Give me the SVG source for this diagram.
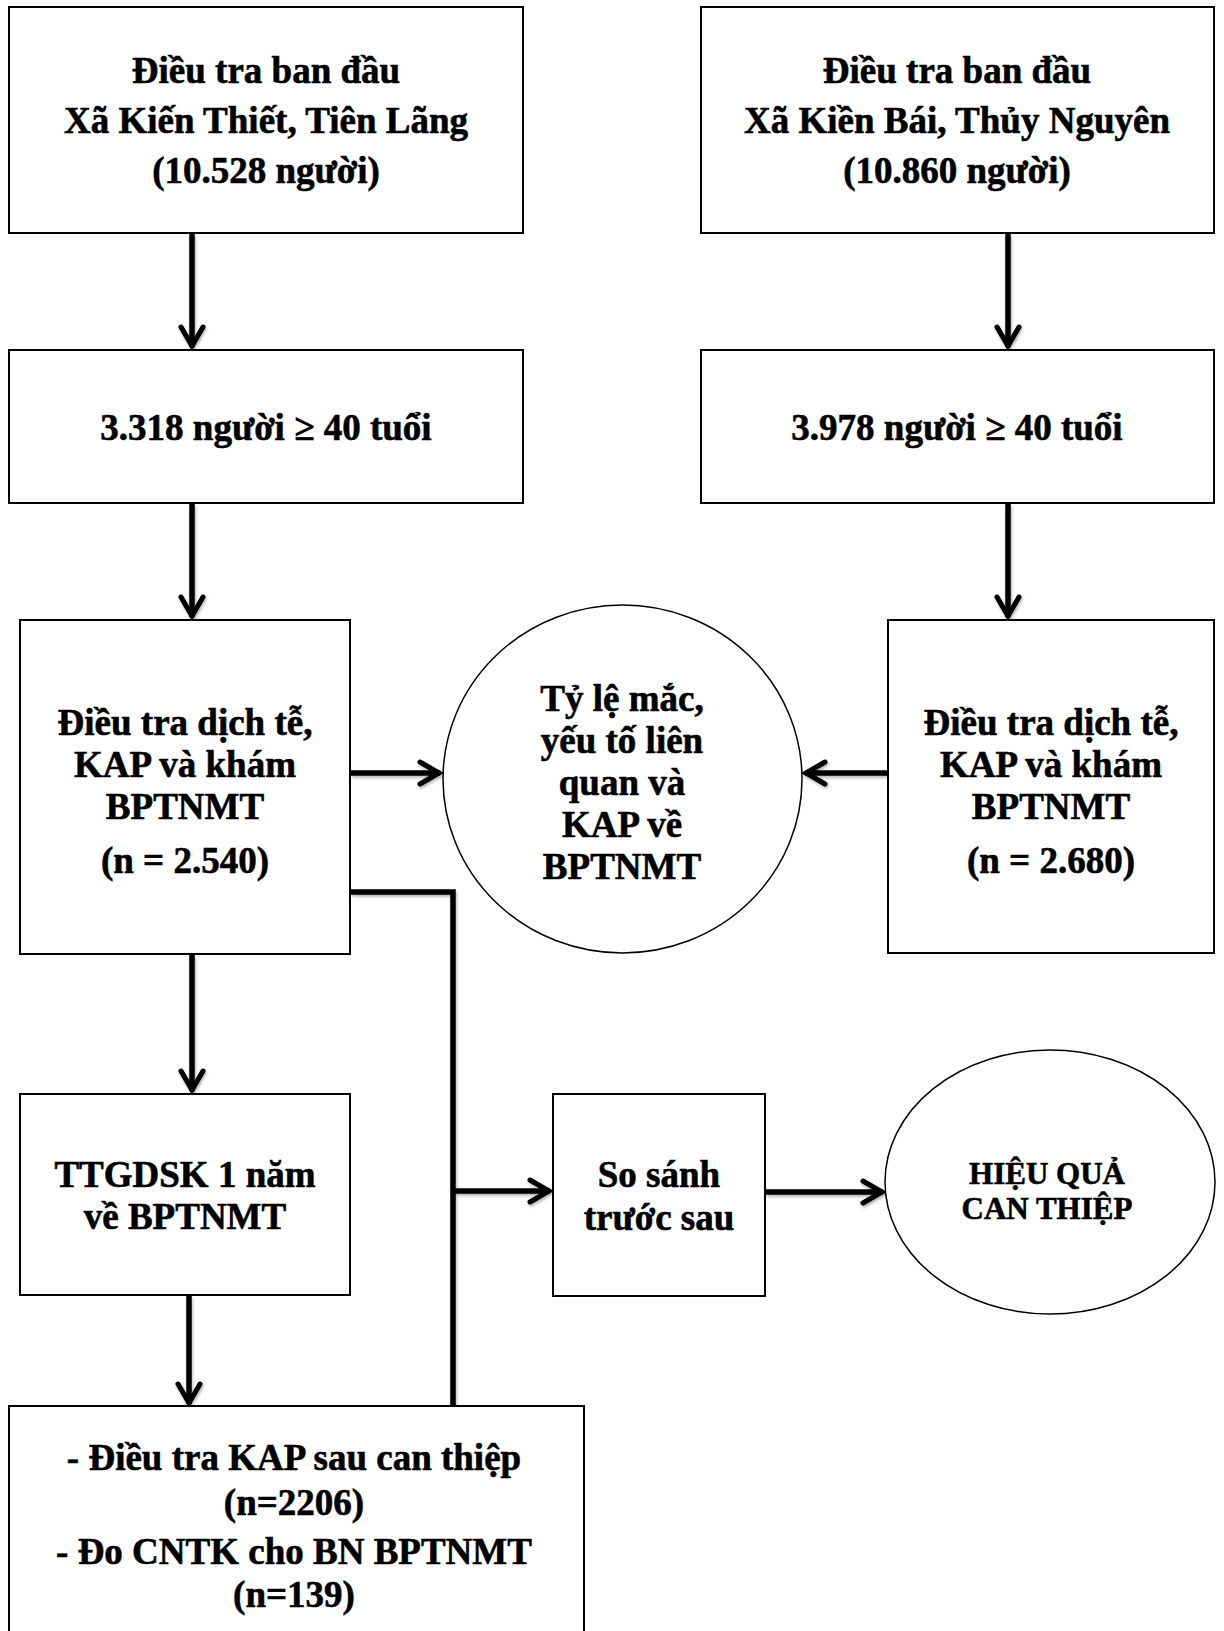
<svg xmlns="http://www.w3.org/2000/svg" width="1224" height="1631" viewBox="0 0 1224 1631">
<style>
.box{fill:#fff;stroke:#000;stroke-width:2}
.oval{fill:#fff;stroke:#000;stroke-width:1.5}
.t{font-family:"Liberation Serif","Times New Roman",serif;font-weight:bold;font-size:37px;fill:#000;stroke:#000;stroke-width:0.6;text-anchor:middle}
.ts{font-size:31px}
.c{fill:none;stroke:#000;stroke-width:5.5}
</style>
<defs>
<filter id="sh" x="-20%" y="-20%" width="140%" height="140%">
<feDropShadow dx="1" dy="2" stdDeviation="1.5" flood-color="#000" flood-opacity="0.3"/>
</filter>
<marker id="arr" markerUnits="userSpaceOnUse" viewBox="-26 -16 30 32" refX="0" refY="0" markerWidth="30" markerHeight="32" orient="auto" overflow="visible">
<path d="M-20,-11 L-1,0 L-20,11" fill="none" stroke="#000" stroke-width="5" stroke-linecap="round" stroke-linejoin="miter"/>
</marker>
</defs>
<rect width="1224" height="1631" fill="#fff"/>
<g id="connectors" filter="url(#sh)">
<line class="c" x1="192" y1="234" x2="192" y2="347" marker-end="url(#arr)"/>
<line class="c" x1="1008" y1="234" x2="1008" y2="347" marker-end="url(#arr)"/>
<line class="c" x1="192" y1="504" x2="192" y2="617" marker-end="url(#arr)"/>
<line class="c" x1="1008" y1="504" x2="1008" y2="617" marker-end="url(#arr)"/>
<line class="c" x1="351" y1="773" x2="440" y2="773" marker-end="url(#arr)"/>
<line class="c" x1="887" y1="773" x2="805" y2="773" marker-end="url(#arr)"/>
<line class="c" x1="192" y1="955" x2="192" y2="1091" marker-end="url(#arr)"/>
<line class="c" x1="189" y1="1296" x2="189" y2="1404" marker-end="url(#arr)"/>
<polyline class="c" points="351,892 453,892 453,1406"/>
<line class="c" x1="453" y1="1191" x2="550" y2="1191" marker-end="url(#arr)"/>
<line class="c" x1="766" y1="1192" x2="883" y2="1192" marker-end="url(#arr)"/>
</g>
<g id="n1"><rect class="box" x="9" y="7" width="514" height="226"/>
<text class="t" x="266" y="83">Điều tra ban đầu</text>
<text class="t" x="266" y="133">Xã Kiến Thiết, Tiên Lãng</text>
<text class="t" x="266" y="183">(10.528 người)</text></g>
<g id="n2"><rect class="box" x="701" y="7" width="513" height="226"/>
<text class="t" x="957" y="83">Điều tra ban đầu</text>
<text class="t" x="957" y="133">Xã Kiền Bái, Thủy Nguyên</text>
<text class="t" x="957" y="183">(10.860 người)</text></g>
<g id="n3"><rect class="box" x="9" y="350" width="514" height="153"/>
<text class="t" x="266" y="440">3.318 người ≥ 40 tuổi</text></g>
<g id="n4"><rect class="box" x="701" y="350" width="513" height="153"/>
<text class="t" x="957" y="440">3.978 người ≥ 40 tuổi</text></g>
<g id="n5"><rect class="box" x="20" y="620" width="330" height="334"/>
<text class="t" x="185" y="735">Điều tra dịch tễ,</text>
<text class="t" x="185" y="777">KAP và khám</text>
<text class="t" x="185" y="819">BPTNMT</text>
<text class="t" x="185" y="873">(n = 2.540)</text></g>
<g id="n6"><ellipse class="oval" cx="622.5" cy="779" rx="179.5" ry="174"/>
<text class="t" x="622" y="711">Tỷ lệ mắc,</text>
<text class="t" x="622" y="753">yếu tố liên</text>
<text class="t" x="622" y="795">quan và</text>
<text class="t" x="622" y="837">KAP về</text>
<text class="t" x="622" y="879">BPTNMT</text></g>
<g id="n7"><rect class="box" x="888" y="620" width="326" height="333"/>
<text class="t" x="1051" y="735">Điều tra dịch tễ,</text>
<text class="t" x="1051" y="777">KAP và khám</text>
<text class="t" x="1051" y="819">BPTNMT</text>
<text class="t" x="1051" y="873">(n = 2.680)</text></g>
<g id="n8"><rect class="box" x="20" y="1094" width="330" height="201"/>
<text class="t" x="185" y="1187">TTGDSK 1 năm</text>
<text class="t" x="185" y="1229">về BPTNMT</text></g>
<g id="n9"><rect class="box" x="553" y="1094" width="212" height="202"/>
<text class="t" x="659" y="1187">So sánh</text>
<text class="t" x="659" y="1230">trước sau</text></g>
<g id="n10"><ellipse class="oval" cx="1050" cy="1182" rx="165" ry="132"/>
<text class="t ts" x="1047" y="1184">HIỆU QUẢ</text>
<text class="t ts" x="1047" y="1219">CAN THIỆP</text></g>
<g id="n11"><rect class="box" x="9" y="1406" width="575" height="240"/>
<text class="t" x="294" y="1470">- Điều tra KAP sau can thiệp</text>
<text class="t" x="294" y="1515">(n=2206)</text>
<text class="t" x="294" y="1564">- Đo CNTK cho BN BPTNMT</text>
<text class="t" x="294" y="1607">(n=139)</text></g>
</svg>
